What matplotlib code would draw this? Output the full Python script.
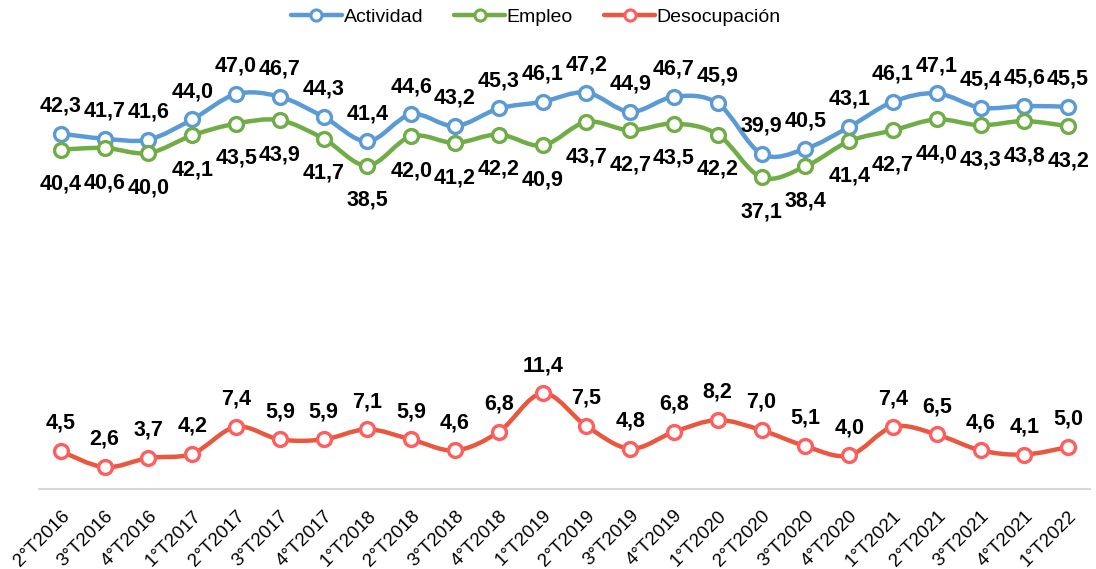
import matplotlib
matplotlib.use("Agg")
import matplotlib.pyplot as plt
from matplotlib.path import Path
from matplotlib.patches import PathPatch
from matplotlib.lines import Line2D
import numpy as np

plt.rcParams['font.family'] = ['Liberation Sans', 'DejaVu Sans']

periods = ["2°T2016", "3°T2016", "4°T2016", "1°T2017", "2°T2017", "3°T2017", "4°T2017",
           "1°T2018", "2°T2018", "3°T2018", "4°T2018", "1°T2019", "2°T2019", "3°T2019",
           "4°T2019", "1°T2020", "2°T2020", "3°T2020", "4°T2020", "1°T2021", "2°T2021",
           "3°T2021", "4°T2021", "1°T2022"]
actividad = [42.3, 41.7, 41.6, 44.0, 47.0, 46.7, 44.3, 41.4, 44.6, 43.2, 45.3, 46.1,
             47.2, 44.9, 46.7, 45.9, 39.9, 40.5, 43.1, 46.1, 47.1, 45.4, 45.6, 45.5]
empleo = [40.4, 40.6, 40.0, 42.1, 43.5, 43.9, 41.7, 38.5, 42.0, 41.2, 42.2, 40.9,
          43.7, 42.7, 43.5, 42.2, 37.1, 38.4, 41.4, 42.7, 44.0, 43.3, 43.8, 43.2]
desocupacion = [4.5, 2.6, 3.7, 4.2, 7.4, 5.9, 5.9, 7.1, 5.9, 4.6, 6.8, 11.4,
                7.5, 4.8, 6.8, 8.2, 7.0, 5.1, 4.0, 7.4, 6.5, 4.6, 4.1, 5.0]

series = [
    ("Actividad", actividad, "#5B9BD5", "#5B9BD5", "above"),
    ("Empleo", empleo, "#70AD47", "#70AD47", "below"),
    ("Desocupación", desocupacion, "#E9573F", "#FF5E5E", "above"),
]

fig = plt.figure(figsize=(10.96, 5.69), dpi=100)
ax = fig.add_axes([39/1096, 1-489/569, (1090-39)/1096, 420/569])
ax.set_xlim(-0.5, len(periods) - 0.5)
ax.set_ylim(0, 50)


def smooth_path(xs, ys, t=1/6):
    pts = np.column_stack([xs, ys]).astype(float)
    n = len(pts)
    verts = [pts[0]]
    codes = [Path.MOVETO]
    for i in range(n - 1):
        p0 = pts[i - 1] if i > 0 else pts[i]
        p1 = pts[i]
        p2 = pts[i + 1]
        p3 = pts[i + 2] if i + 2 < n else pts[i + 1]
        c1 = p1 + (p2 - p0) * t
        c2 = p2 - (p3 - p1) * t
        verts += [c1, c2, p2]
        codes += [Path.CURVE4] * 3
    return Path(verts, codes)


x = np.arange(len(periods))
handles = []
for name, vals, lc, mc, pos in series:
    path = smooth_path(x, vals)
    ax.add_patch(PathPatch(path, fill=False, edgecolor=lc, lw=3.2,
                           capstyle='round', joinstyle='round', zorder=2))
    ax.plot(x, vals, linestyle='none', marker='o', markersize=10,
            markerfacecolor='white', markeredgecolor=mc, markeredgewidth=2.4,
            zorder=3, clip_on=False)
    for xi, v in zip(x, vals):
        off = 16 if pos == "above" else -29
        ax.annotate(f"{v:.1f}".replace(".", ","), (xi, v), xytext=(0, off),
                    textcoords='offset points', ha='center', va='baseline',
                    fontsize=15.5, fontweight='bold', color='black',
                    annotation_clip=False, zorder=4)
    handles.append(Line2D([], [], color=lc, lw=3.2, marker='o', markersize=8,
                          markerfacecolor='white', markeredgecolor=mc,
                          markeredgewidth=2.2, solid_capstyle='round'))

for s in ['top', 'right', 'left']:
    ax.spines[s].set_visible(False)
ax.spines['bottom'].set_color('#D9D9D9')
ax.spines['bottom'].set_linewidth(1.5)
ax.set_yticks([])
ax.set_xticks(x)
ax.set_xticklabels(periods, rotation=45, ha='right', rotation_mode='anchor',
                   fontsize=13.5)
ax.tick_params(axis='x', length=0, pad=13)

fig.legend(handles, [s[0] for s in series], loc='center',
           bbox_to_anchor=(536/1096, 1-17/569), ncol=3, frameon=False,
           fontsize=14, handlelength=2.6, handletextpad=0.1, columnspacing=1.6)

fig.savefig("out.png", dpi=100)
